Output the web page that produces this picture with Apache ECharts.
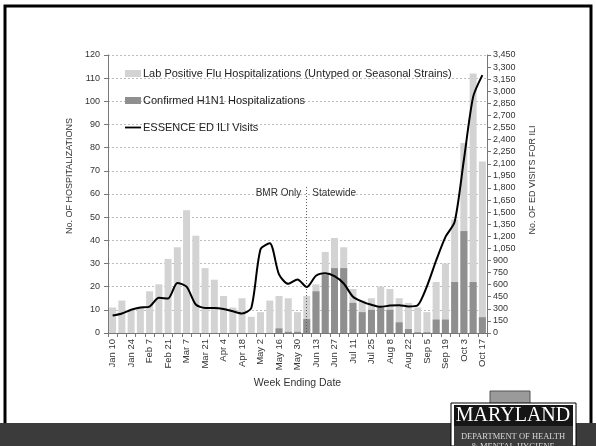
<!DOCTYPE html>
<html><head><meta charset="utf-8">
<script src="https://cdn.jsdelivr.net/npm/echarts@6/dist/echarts.min.js"></script>
<style>html,body{margin:0;padding:0;background:#fff}#c{width:596px;height:446px}</style>
</head><body><div id="c"></div>
<script>
// ---- data ----
const categories = ['Jan 10','Jan 17','Jan 24','Jan 31','Feb 7','Feb 14','Feb 21','Feb 28','Mar 7','Mar 14','Mar 21','Mar 28','Apr 4','Apr 11','Apr 18','Apr 25','May 2','May 9','May 16','May 23','May 30','Jun 6','Jun 13','Jun 20','Jun 27','Jul 4','Jul 11','Jul 18','Jul 25','Aug 1','Aug 8','Aug 15','Aug 22','Aug 29','Sep 5','Sep 12','Sep 19','Sep 26','Oct 3','Oct 10','Oct 17'];
const labPositive = [11,14,10,11,18,21,32,37,53,42,28,23,16,11,15,7,9,14,16,15,9,16,21,35,41,37,19,14,15,20,19,15,13,11,9,22,30,49,82,112,74];
const h1n1 = [0,0,0,0,0,0,0,0,0,0,0,0,0,0,0,0,0,0,2,0.5,0.5,6,18,25,28,28,13,9,10,11,10,4.6,1.7,0.3,0.3,5.8,5.8,22,44,22,6.8];
const essenceVisits = [216,242,288,316,328,437,428,621,575,354,311,311,299,270,242,311,1040,1113,727,610,664,570,710,740,705,614,450,390,350,325,340,345,330,345,580,900,1190,1380,2150,2930,3200];
const leftTicks = {min:0, max:120, interval:10};
const rightTicks = {min:0, max:3450, interval:150};
const seriesNames = ['Lab Positive Flu Hospitalizations (Untyped or Seasonal Strains)','Confirmed H1N1 Hospitalizations','ESSENCE ED ILI Visits'];
const splitCategory = 'Jun 6';
const splitLabels = ['BMR Only','Statewide'];

const FONT = '"Liberation Sans", Arial, sans-serif';
const TXT = '#333';
const chart = echarts.init(document.getElementById('c'), null, {renderer:'canvas'});
chart.setOption({
  animation:false,
  backgroundColor:'#fff',
  textStyle:{fontFamily:FONT},
  grid:{left:108, right:109, top:55, bottom:113, containLabel:false},
  legend:{
    orient:'vertical', left:125, top:68, padding:0, itemGap:16, itemWidth:16, itemHeight:7,
    textStyle:{fontSize:11, color:'#222', fontFamily:FONT, padding:[0,0,0,-3]},
    data:[
      {name:seriesNames[0], icon:'rect'},
      {name:seriesNames[1], icon:'rect'},
      {name:seriesNames[2], icon:'path://M0,0M16,7M0,2.6h16v1.8h-16z'}
    ]
  },
  xAxis:{
    type:'category', data:categories,
    name:'Week Ending Date', nameLocation:'middle', nameGap:45,
    nameTextStyle:{fontSize:10.5, color:TXT},
    axisLine:{lineStyle:{color:'#777', width:1}},
    axisTick:{show:true, interval:0, length:4, lineStyle:{color:'#777'}},
    axisLabel:{interval:1, rotate:90, fontSize:9.5, color:TXT, margin:6}
  },
  yAxis:[{
    type:'value', min:leftTicks.min, max:leftTicks.max, interval:leftTicks.interval,
    axisLine:{show:true, lineStyle:{color:'#777'}},
    axisTick:{show:true, length:4, lineStyle:{color:'#777'}},
    axisLabel:{fontSize:9, color:TXT, margin:8},
    splitLine:{show:true, lineStyle:{color:'#bdbdbd', type:[2,2], width:1}}
  },{
    type:'value', position:'right', min:rightTicks.min, max:rightTicks.max, interval:rightTicks.interval,
    axisLine:{show:true, lineStyle:{color:'#777'}},
    axisTick:{show:true, length:4, lineStyle:{color:'#777'}},
    axisLabel:{fontSize:9, color:TXT, margin:6, formatter:v=>v.toLocaleString('en-US')},
    splitLine:{show:false}
  }],
  series:[{
    name:seriesNames[0], type:'bar', data:labPositive, barWidth:7,
    itemStyle:{color:'#d3d3d3'}, z:2
  },{
    name:seriesNames[1], type:'bar', data:h1n1, barWidth:7, barGap:'-100%',
    itemStyle:{color:'#8f8f8f'}, z:3,
    markLine:{silent:true, symbol:'none', label:{show:false},
      lineStyle:{color:'#555', type:[1,2], width:1},
      data:[[{coord:[splitCategory,63]},{coord:[splitCategory,0]}]]},
    markPoint:{silent:true, symbol:'circle', symbolSize:1, itemStyle:{color:'rgba(0,0,0,0)'},
      data:[
        {coord:[splitCategory,60.3], label:{show:true, position:'left', distance:5, formatter:splitLabels[0], fontSize:10, color:TXT}},
        {coord:[splitCategory,60.3], label:{show:true, position:'right', distance:5, formatter:splitLabels[1], fontSize:10, color:TXT}}
      ]}
  },{
    name:seriesNames[2], type:'line', yAxisIndex:1, data:essenceVisits, smooth:0.25,
    symbol:'none', lineStyle:{color:'#000', width:2}, itemStyle:{color:'#000'}, z:5
  }],
  graphic:[
    {type:'text', rotation:Math.PI/2, x:70, y:176, style:{text:'No. OF HOSPITALIZATIONS', font:'9px '+FONT, fill:TXT, align:'center', verticalAlign:'middle'}},
    {type:'text', rotation:Math.PI/2, x:533, y:180, style:{text:'No. OF ED VISITS FOR ILI', font:'9px '+FONT, fill:TXT, align:'center', verticalAlign:'middle'}},
    {type:'rect', z:-10, shape:{x:5,y:6,width:586,height:440}, style:{fill:'none', stroke:'#000', lineWidth:3}},
    {type:'rect', shape:{x:0,y:423,width:596,height:23}, style:{fill:'#3b3b3b'}},
    {type:'rect', shape:{x:490,y:391,width:40,height:13}, style:{fill:'#9a9a9a', stroke:'#555', lineWidth:1}},
    {type:'rect', shape:{x:451,y:403,width:125,height:43}, style:{fill:'#fff', stroke:'#000', lineWidth:1}},
    {type:'rect', shape:{x:454,y:405,width:119,height:21}, style:{fill:'#151515'}},
    {type:'rect', shape:{x:454,y:426,width:119,height:20}, style:{fill:'#3b3b3b'}},
    {type:'text', style:{text:'MARYLAND', x:513, y:416, font:'20px "Liberation Serif", serif', fill:'#fff', align:'center', verticalAlign:'middle'}},
    {type:'text', style:{text:'DEPARTMENT OF HEALTH', x:513, y:437, font:'8.5px "Liberation Serif", serif', fill:'#d8d8d8', align:'center', verticalAlign:'middle'}},
    {type:'text', style:{text:'& MENTAL HYGIENE', x:513, y:447, font:'8.5px "Liberation Serif", serif', fill:'#d8d8d8', align:'center', verticalAlign:'middle'}}
  ]
});
</script></body></html>
